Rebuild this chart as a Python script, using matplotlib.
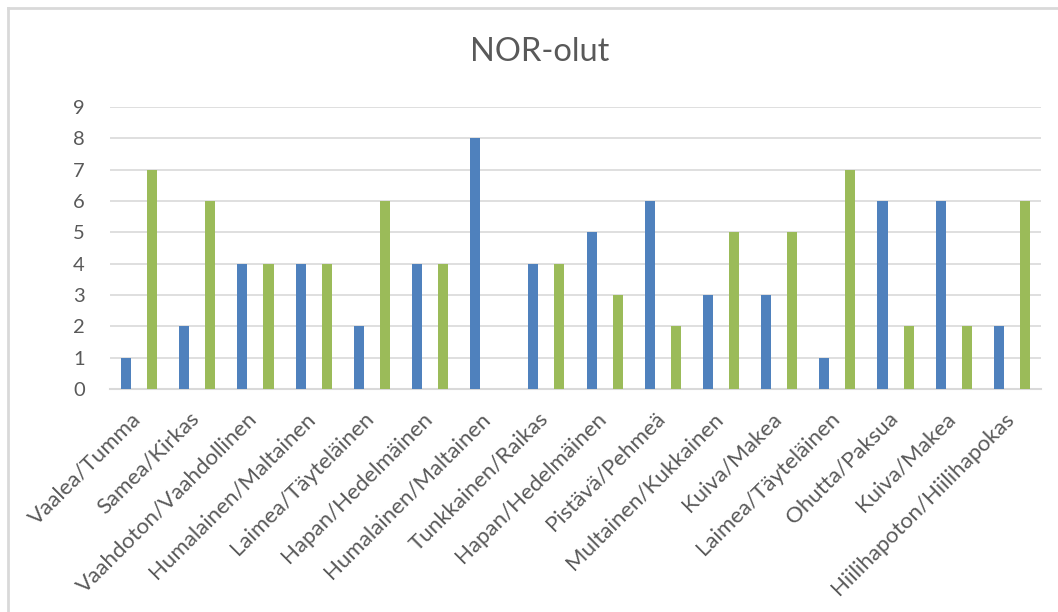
import matplotlib
matplotlib.use("Agg")
import matplotlib.pyplot as plt
from matplotlib.lines import Line2D
import numpy as np

categories = [
    "Vaalea/Tumma", "Samea/Kirkas", "Vaahdoton/Vaahdollinen", "Humalainen/Maltainen",
    "Laimea/Täyteläinen", "Hapan/Hedelmäinen", "Humalainen/Maltainen", "Tunkkainen/Raikas",
    "Hapan/Hedelmäinen", "Pistävä/Pehmeä", "Multainen/Kukkainen", "Kuiva/Makea",
    "Laimea/Täyteläinen", "Ohutta/Paksua", "Kuiva/Makea", "Hiilihapoton/Hiilihapokas",
]
series_blue = [1, 2, 4, 4, 2, 4, 8, 4, 5, 6, 3, 3, 1, 6, 6, 2]
series_green = [7, 6, 4, 4, 6, 4, 0, 4, 3, 2, 5, 5, 7, 2, 2, 6]
yticks = list(range(0, 10))

BLUE = "#4F81BD"
GREEN = "#9BBB59"
TEXT = "#595959"
GRID = "#D9D9D9"

plt.rcParams["font.family"] = ["Lato", "DejaVu Sans"]

W, H = 1058, 612
fig = plt.figure(figsize=(W / 100, H / 100), dpi=100)
fig.patch.set_facecolor("white")

# chart frame (top and left edges visible)
fig.add_artist(Line2D([8 / W, 8 / W], [0, 1 - 8 / H], transform=fig.transFigure,
                      color=GRID, lw=2))
fig.add_artist(Line2D([8 / W, 1], [1 - 8 / H, 1 - 8 / H], transform=fig.transFigure,
                      color=GRID, lw=2))

left, right = 110, 1041
top, bottom = 107, 389
ax = fig.add_axes([left / W, 1 - bottom / H, (right - left) / W, (bottom - top) / H])

x = np.arange(len(categories))
bw = 0.172
off = 0.224
ax.bar(x - off, series_blue, width=bw, color=BLUE, zorder=3)
ax.bar(x + off, series_green, width=bw, color=GREEN, zorder=3)

ax.set_xlim(-0.5, len(categories) - 0.5)
ax.set_ylim(0, 9)
ax.set_yticks(yticks)
ax.set_yticklabels([str(v) for v in yticks], fontsize=14.5, color=TEXT)
ax.yaxis.grid(True, color=GRID, lw=1.2, zorder=0)
ax.set_axisbelow(True)
for s in ["top", "right", "left"]:
    ax.spines[s].set_visible(False)
ax.spines["bottom"].set_color(GRID)
ax.spines["bottom"].set_linewidth(1.5)
ax.tick_params(axis="y", length=0, pad=18)
ax.tick_params(axis="x", length=0)

ax.set_xticks(x)
ax.set_xticklabels([])
for xi, lab in zip(x, categories):
    ax.annotate(lab, xy=(xi, 0), xycoords="data", xytext=(-6, -14),
                textcoords="offset points", rotation=45, ha="right", va="top",
                rotation_mode="anchor", fontsize=16, color=TEXT)

fig.text(540 / W, 1 - 52 / H, "NOR-olut", ha="center", va="center",
         fontsize=23.5, color=TEXT)

fig.savefig("out.png", dpi=100, facecolor="white")
